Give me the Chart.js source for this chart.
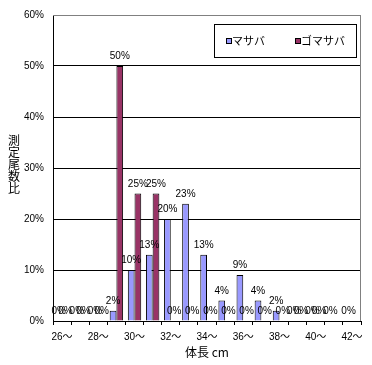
<!DOCTYPE html>
<html>
<head>
<meta charset="utf-8">
<script src="https://cdn.jsdelivr.net/npm/chart.js@4"></script>
<style>
  body { margin: 0; background: #fff; }
  #wrap { position: relative; width: 372px; height: 365px; }
  canvas { display: block; }
  #ytitle {
    position: absolute; left: 8px; top: 134px; width: 12px;
    font: 12px/12px 'Noto Sans CJK JP', sans-serif; color: #000;
    text-align: center;
  }
  #ytitle span { display: block; height: 12px; }
</style>
</head>
<body>
<div id="wrap">
  <canvas id="fishChart" width="372" height="365"></canvas>
  <div id="ytitle"></div>
</div>
<script>
// 体長階級
const categories = ['26〜', '27〜', '28〜', '29〜', '30〜', '31〜', '32〜', '33〜', '34〜',
                    '35〜', '36〜', '37〜', '38〜', '39〜', '40〜', '41〜', '42〜'];
// 測定尾数比 (%)
const masaba   = [0, 0, 0, 2, 10, 13, 20, 23, 13, 4, 9, 4, 2, 0, 0, 0, 0];
const gomasaba = [0, 0, 0, 50, 25, 25, 0, 0, 0, 0, 0, 0, 0, 0, 0, null, null];
const seriesNames = ['マサバ', 'ゴマサバ'];
const yTitleChars = ['測', '定', '尾', '数', '比'];
const yMax = 60;
const yStep = 10;

const FONT = "'Liberation Sans', 'Noto Sans CJK JP', sans-serif";
const JP_FONT = "'Noto Sans CJK JP', sans-serif";

// 縦軸タイトル (縦書き)
document.getElementById('ytitle').innerHTML =
    yTitleChars.map(ch => `<span>${ch}</span>`).join('');

// ラベル・凡例・横軸タイトルを描く
const decor = {
    id: 'decor',
    afterDatasetsDraw(chart) {
        const c = chart.ctx;
        const area = chart.chartArea;
        c.save();

        // 外枠 (上・右)
        c.strokeStyle = '#808080';
        c.lineWidth = 1;
        c.beginPath();
        c.moveTo(area.left, area.top + 0.5);
        c.lineTo(area.right - 0.5, area.top + 0.5);
        c.lineTo(area.right - 0.5, area.bottom);
        c.stroke();

        // データラベル
        c.fillStyle = '#000';
        c.font = '10px ' + FONT;
        c.textAlign = 'center';
        c.textBaseline = 'alphabetic';
        chart.data.datasets.forEach((ds, i) => {
            chart.getDatasetMeta(i).data.forEach((bar, j) => {
                if (ds.data[j] === null) return;
                c.fillText(ds.data[j] + '%', bar.x, bar.y - 7);
            });
        });

        // 横軸タイトル
        c.font = '12px ' + JP_FONT;
        c.fillText('体長 cm', 207, 357);

        // 凡例
        c.fillStyle = '#fff';
        c.fillRect(214, 24, 143, 34);
        c.strokeStyle = '#000';
        c.strokeRect(214.5, 24.5, 142, 33);
        c.textAlign = 'left';
        c.textBaseline = 'middle';
        const items = [{ x: 226, tx: 232 }, { x: 295, tx: 301 }];
        chart.data.datasets.forEach((ds, i) => {
            c.fillStyle = ds.backgroundColor;
            c.fillRect(items[i].x, 38, 6, 6);
            c.strokeStyle = '#000';
            c.strokeRect(items[i].x + 0.5, 38.5, 5, 5);
            c.fillStyle = '#000';
            c.font = '11px ' + JP_FONT;
            c.fillText(ds.label, items[i].tx, 41);
        });
        c.restore();
    }
};

const ctx = document.getElementById('fishChart').getContext('2d');
new Chart(ctx, {
    type: 'bar',
    data: {
        labels: categories,
        datasets: [
            {
                label: seriesNames[0],
                data: masaba,
                backgroundColor: '#9999FF',
                borderColor: '#000',
                borderWidth: 1
            },
            {
                label: seriesNames[1],
                data: gomasaba,
                backgroundColor: '#993366',
                borderColor: '#000',
                borderWidth: 1
            }
        ]
    },
    options: {
        responsive: false,
        animation: false,
        layout: { padding: { left: 0, top: 14, right: 11, bottom: 0 } },
        datasets: {
            bar: { categoryPercentage: 0.74, barPercentage: 1 }
        },
        plugins: {
            legend: { display: false },
            tooltip: { enabled: false }
        },
        scales: {
            x: {
                grid: {
                    offset: true,
                    drawOnChartArea: false,
                    drawTicks: true,
                    tickLength: 4,
                    color: '#000'
                },
                border: { color: '#000' },
                ticks: {
                    autoSkip: false,
                    maxRotation: 0,
                    padding: 6,
                    color: '#000',
                    font: { family: FONT, size: 10 },
                    callback: (v, i) => (i % 2 === 0 ? categories[i] : '')
                },
                afterFit: s => { s.height = 44; }
            },
            y: {
                min: 0,
                max: yMax,
                grid: {
                    drawTicks: false,
                    color: c => (c.tick && c.tick.value === yMax ? '#808080' : '#000')
                },
                border: { color: '#000' },
                ticks: {
                    stepSize: yStep,
                    padding: 9,
                    color: '#000',
                    font: { family: FONT, size: 10 },
                    callback: v => v + '%'
                },
                afterFit: s => { s.width = 53; }
            }
        }
    },
    plugins: [decor]
});
</script>
</body>
</html>
